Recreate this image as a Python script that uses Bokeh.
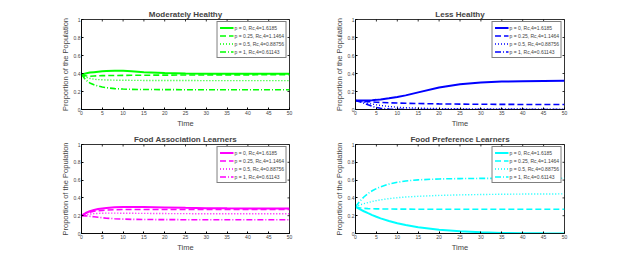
import math
from bokeh.plotting import figure
from bokeh.models import Range1d, FixedTicker, Legend, LegendItem
from bokeh.layouts import column, row
from bokeh.embed import file_html
from bokeh.resources import INLINE

t = [0, 1, 2, 3, 4, 5, 6, 8, 10, 12, 15, 20, 25, 30, 35, 40, 45, 50]

labels = ["p = 0, Rc,4=1.6185", "p = 0.25, Rc,4=1.1464",
          "p = 0.5, Rc,4=0.88756", "p = 1, Rc,4=0.61143"]

mh_p0 = [0.39, 0.40, 0.41, 0.415, 0.42, 0.425, 0.428, 0.43, 0.43, 0.425, 0.415, 0.405, 0.40, 0.398, 0.397, 0.397, 0.397, 0.397]
mh_p25 = [0.39, 0.375, 0.37, 0.372, 0.374, 0.376, 0.377, 0.378, 0.379, 0.38, 0.381, 0.382, 0.383, 0.384, 0.385, 0.385, 0.386, 0.386]
mh_p5 = [0.39, 0.36, 0.345, 0.337, 0.332, 0.33, 0.328, 0.326, 0.325, 0.324, 0.323, 0.322, 0.322, 0.321, 0.321, 0.321, 0.321, 0.321]
mh_p1 = [0.39, 0.33, 0.295, 0.275, 0.26, 0.25, 0.242, 0.232, 0.227, 0.224, 0.222, 0.221, 0.22, 0.22, 0.22, 0.22, 0.22, 0.22]

lh_p0 = [0.10, 0.10, 0.10, 0.10, 0.103, 0.107, 0.112, 0.125, 0.14, 0.157, 0.19, 0.245, 0.28, 0.30, 0.31, 0.315, 0.318, 0.32]
lh_p25 = [0.10, 0.095, 0.09, 0.087, 0.084, 0.081, 0.079, 0.075, 0.072, 0.069, 0.066, 0.062, 0.06, 0.058, 0.057, 0.056, 0.055, 0.055]
lh_p5 = [0.10, 0.09, 0.08, 0.07, 0.06, 0.052, 0.045, 0.034, 0.026, 0.02, 0.015, 0.01, 0.008, 0.006, 0.005, 0.005, 0.004, 0.004]
lh_p1 = [0.10, 0.085, 0.07, 0.052, 0.035, 0.022, 0.013, 0.005, 0.002, 0.001, 0.0, 0.0, 0.0, 0.0, 0.0, 0.0, 0.0, 0.0]

fa_p0 = [0.20, 0.23, 0.25, 0.265, 0.275, 0.282, 0.287, 0.294, 0.297, 0.298, 0.297, 0.293, 0.288, 0.285, 0.283, 0.282, 0.281, 0.28]
fa_p25 = [0.20, 0.225, 0.24, 0.25, 0.256, 0.26, 0.263, 0.267, 0.269, 0.27, 0.27, 0.27, 0.27, 0.27, 0.27, 0.27, 0.27, 0.27]
fa_p5 = [0.20, 0.21, 0.218, 0.223, 0.226, 0.228, 0.229, 0.229, 0.228, 0.227, 0.226, 0.224, 0.223, 0.222, 0.222, 0.222, 0.222, 0.222]
fa_p1 = [0.20, 0.198, 0.193, 0.188, 0.182, 0.177, 0.172, 0.166, 0.162, 0.159, 0.157, 0.156, 0.155, 0.155, 0.155, 0.155, 0.155, 0.155]

fp_p0 = [0.30, 0.275, 0.25, 0.228, 0.207, 0.188, 0.17, 0.14, 0.115, 0.095, 0.07, 0.042, 0.024, 0.013, 0.007, 0.004, 0.002, 0.001]
fp_p25 = [0.30, 0.29, 0.283, 0.28, 0.278, 0.277, 0.276, 0.275, 0.274, 0.274, 0.273, 0.272, 0.272, 0.272, 0.272, 0.272, 0.272, 0.272]
fp_p5 = [0.30, 0.32, 0.335, 0.348, 0.36, 0.37, 0.378, 0.392, 0.402, 0.41, 0.418, 0.428, 0.434, 0.438, 0.441, 0.443, 0.444, 0.445]
fp_p1 = [0.30, 0.36, 0.41, 0.45, 0.48, 0.505, 0.525, 0.555, 0.575, 0.59, 0.603, 0.613, 0.617, 0.619, 0.62, 0.62, 0.62, 0.62]

x_ticks = [0, 5, 10, 15, 20, 25, 30, 35, 40, 45, 50]
y_ticks = [0, 0.2, 0.4, 0.6, 0.8, 1]

FONT = "Liberation Sans"
dashes = ["solid", "6 3", "1 2", "6 2 1 2"]
widths = [2, 1.6, 1.4, 1.6]


def make_panel(title, series, color, size, borders):
    w, h = size
    left, right, top, bottom = borders
    p = figure(width=w, height=h, output_backend="svg", toolbar_location=None,
               x_range=Range1d(0, 50), y_range=Range1d(0, 1),
               min_border_left=left, min_border_right=right,
               min_border_top=top, min_border_bottom=bottom)
    p.title.text = title
    p.title.align = "center"
    p.title.text_font = FONT
    p.title.text_font_size = "8px"
    p.title.text_font_style = "bold"
    p.title.standoff = 1
    p.title.offset = 0
    p.xgrid.visible = False
    p.ygrid.visible = False
    p.outline_line_color = "black"
    p.outline_line_width = 0.8
    p.background_fill_color = "white"
    p.border_fill_color = "white"
    p.xaxis.ticker = FixedTicker(ticks=x_ticks)
    p.yaxis.ticker = FixedTicker(ticks=y_ticks)
    p.xaxis.axis_label = "Time"
    p.yaxis.axis_label = "Proportion of the Population"
    for ax in (p.xaxis[0], p.yaxis[0]):
        ax.axis_label_text_font = FONT
        ax.axis_label_text_font_size = "7.5px"
        ax.axis_label_text_font_style = "normal"
        ax.axis_label_standoff = 1
        ax.major_label_text_font = FONT
        ax.major_label_text_font_size = "5px"
        ax.major_label_standoff = 1
        ax.major_tick_in = 2
        ax.major_tick_out = 0
        ax.minor_tick_in = 0
        ax.minor_tick_out = 0
        ax.axis_line_color = "black"
        ax.axis_line_width = 0.8
    # inward ticks on the top and right edges of the box
    p.scatter(x_ticks, [1] * len(x_ticks), marker="dash", angle=math.pi / 2,
              size=4, line_color="black", line_width=0.8)
    p.scatter([50] * len(y_ticks), y_ticks, marker="dash", angle=0,
              size=4, line_color="black", line_width=0.8)
    items = []
    for ys, lab, d, lw in zip(series, labels, dashes, widths):
        r = p.line(t, ys, line_color=color, line_dash=d, line_width=lw)
        items.append(LegendItem(label=lab, renderers=[r]))
    leg = Legend(items=items, location="top_right", label_text_font=FONT,
                 label_text_font_size="5px", glyph_width=14, glyph_height=7,
                 label_height=7, spacing=1, padding=2, margin=2,
                 label_standoff=1, border_line_color="black", border_line_width=0.8,
                 background_fill_alpha=1)
    p.add_layout(leg)
    return p


p1 = make_panel("Moderately Healthy", [mh_p0, mh_p25, mh_p5, mh_p1], "#00ff00", (311, 131), (81, 22, 19, 22))
p2 = make_panel("Less Healthy", [lh_p0, lh_p25, lh_p5, lh_p1], "#0000ff", (311, 131), (44, 58, 19, 22))
p3 = make_panel("Food Association Learners", [fa_p0, fa_p25, fa_p5, fa_p1], "#ff00ff", (311, 131), (81, 22, 13, 29))
p4 = make_panel("Food Preference Learners", [fp_p0, fp_p25, fp_p5, fp_p1], "#00ffff", (311, 131), (44, 58, 13, 29))

layout = column(row(p1, p2), row(p3, p4))
open("out.html", "w").write(file_html(layout, INLINE))
